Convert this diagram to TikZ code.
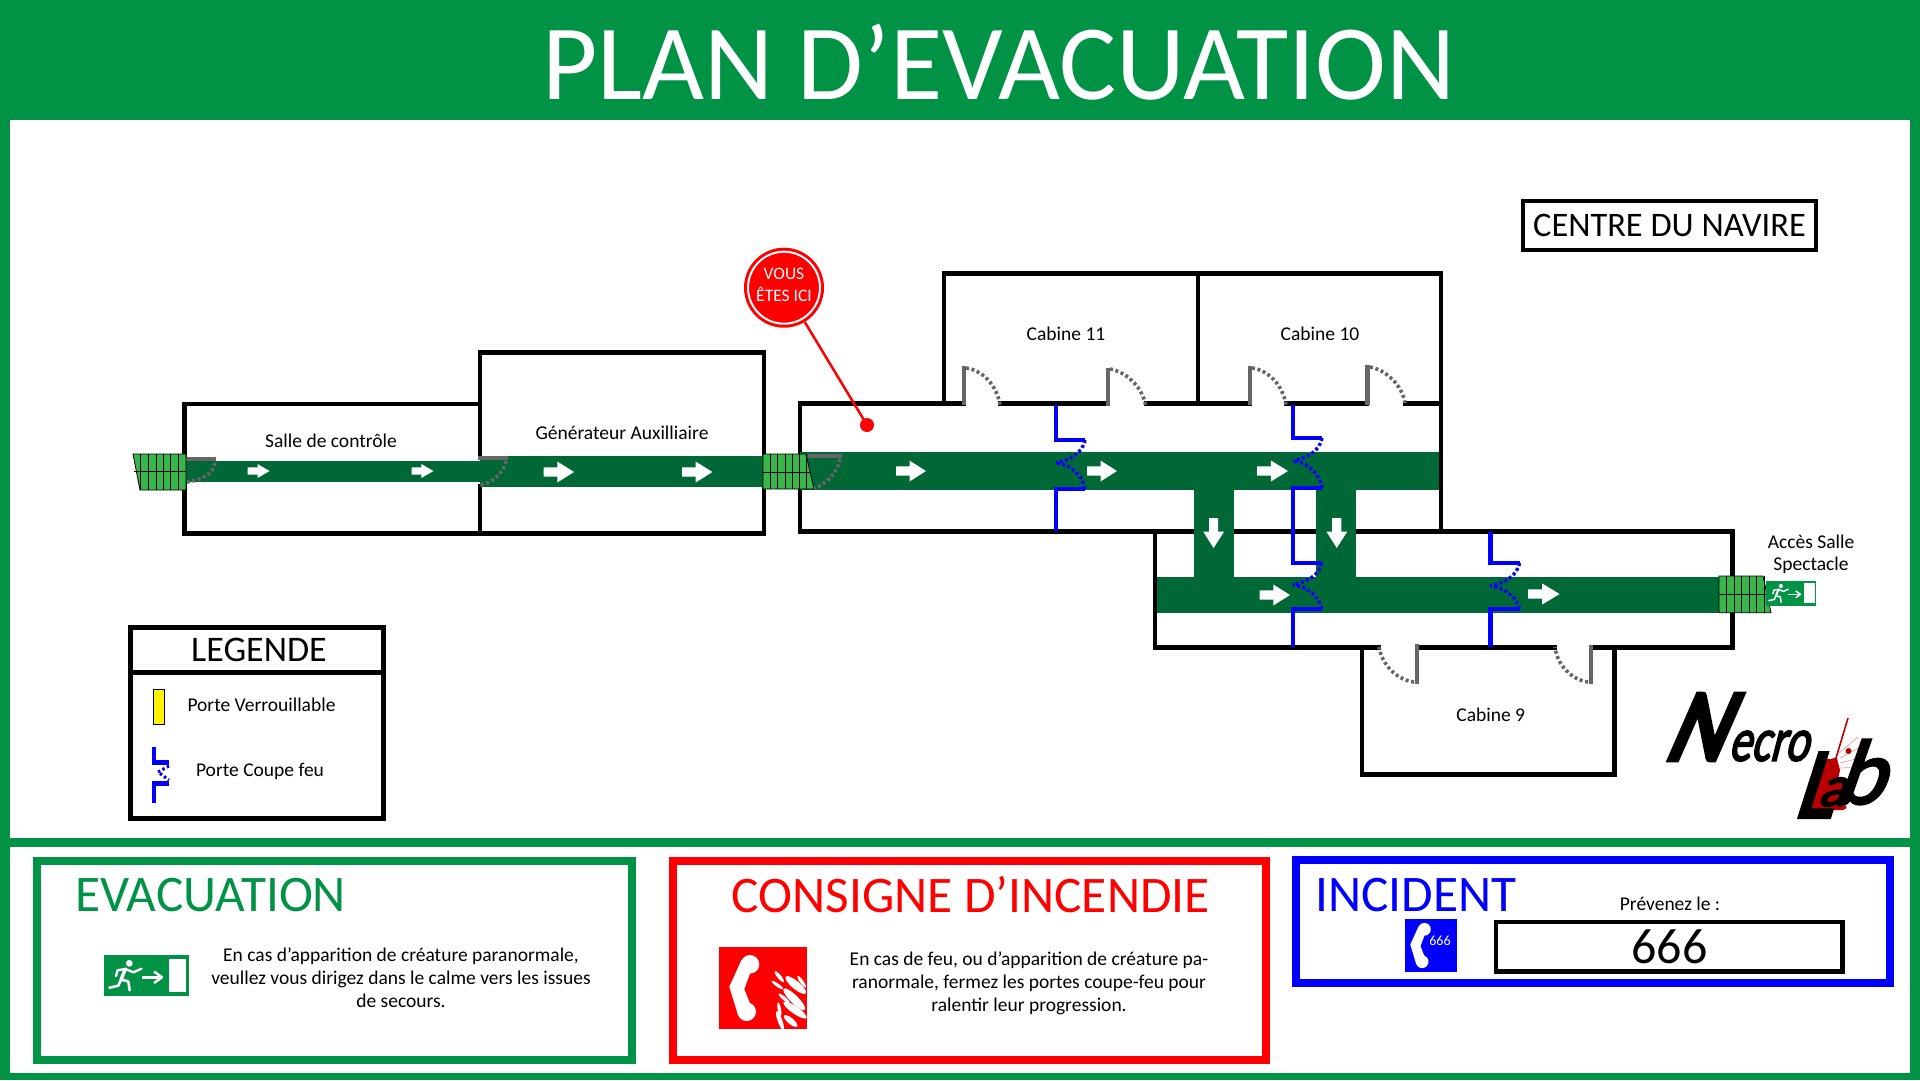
\documentclass[tikz,border=0pt]{standalone}
\usepackage{fontspec}
\setmainfont{Carlito}
\newfontfamily\brushfont[FakeBold=3,FakeSlant=0.35]{Carlito}
\newfontfamily\brushbig[FakeBold=6,FakeSlant=0.5]{Carlito}
\definecolor{gmain}{HTML}{009245}
\definecolor{gdark}{HTML}{006837}
\definecolor{glight}{HTML}{39B54A}
\definecolor{rmain}{HTML}{FF0000}
\definecolor{bmain}{HTML}{0000FF}
\definecolor{dgray}{HTML}{666666}
\definecolor{bloodred}{HTML}{B80000}
\definecolor{bloodpale}{HTML}{E8A0A0}
\tikzset{
  wall/.style={draw=black,line width=4.6pt,line cap=rect},
  corridor/.style={fill=gdark},
  doorbar/.style={draw=dgray,line width=4.4pt},
  doorarc/.style={draw=dgray,line width=3.6pt,dash pattern=on 3pt off 2.6pt},
  fireline/.style={draw=bmain,line width=4.4pt},
  firedash/.style={draw=bmain,line width=3.4pt,dash pattern=on 3pt off 2.4pt},
  stairs/.style={fill=glight,draw=black,line width=.8pt},
  lbl/.style={font=\fontsize{19.5}{24}\selectfont,inner sep=0pt,align=center},
  para/.style={font=\fontsize{19.5}{23}\selectfont,inner sep=0pt,align=center},
  head/.style={font=\fontsize{51.3}{56}\selectfont,inner sep=0pt},
  brush/.style={inner sep=0pt,transform shape},
}
% right-pointing block arrow: x start, x end, y centre, half height, shaft half height
\newcommand{\rarrow}[5]{\fill[white] (#1,#3-#5) -- ({#1+0.45*(#2-#1)},#3-#5) -- ({#1+0.45*(#2-#1)},#3-#4) -- (#2,#3) -- ({#1+0.45*(#2-#1)},#3+#4) -- ({#1+0.45*(#2-#1)},#3+#5) -- (#1,#3+#5) -- cycle;}
\newcommand{\darrow}[5]{\fill[white] (#3-#5,#1) -- (#3-#5,{#1+0.45*(#2-#1)}) -- (#3-#4,{#1+0.45*(#2-#1)}) -- (#3,#2) -- (#3+#4,{#1+0.45*(#2-#1)}) -- (#3+#5,{#1+0.45*(#2-#1)}) -- (#3+#5,#1) -- cycle;}
% fire door: x, y top, y upper leaf, x leaf end, y meet, y lower leaf, y bottom
\newcommand{\firedoor}[7]{
  \draw[fireline,line join=miter] (#1,#2) -- (#1,#3) -- (#4,#3);
  \draw[fireline,line join=miter] (#1,#7) -- (#1,#6) -- (#4,#6);
  \draw[firedash] (#4,#3) .. controls (#4-3,#5-8) and (#1+12,#5-3) .. (#1,#5);
  \draw[firedash] (#4,#6) .. controls (#4-3,#5+10) and (#1+12,#5+1) .. (#1,#5);
}
% exit sign: left, top, scale
\newcommand{\exitsign}[3]{
\begin{scope}[shift={(#1,#2)},scale=#3]
  \fill[gmain] (0,0) rectangle (84.6,41);
  \fill[white] (64.6,4) rectangle (82.4,37);
  \fill[white] (25.3,8.3) circle (3.4);
  \draw[white,line width=#3*3.4pt,line join=round,line cap=round] (21.4,14) -- (17,24.7);
  \draw[white,line width=#3*2.4pt,line join=round,line cap=round] (12,21) -- (13.5,15.3) -- (21.4,14) -- (29.4,17.3) -- (37.5,13.7);
  \draw[white,line width=#3*2.6pt,line join=round,line cap=round] (5.4,32.7) -- (14.3,30.7) -- (17,24.7) -- (24.3,26.3) -- (25.7,35.3);
  \draw[white,line width=#3*2.4pt,line join=round] (37.5,22.3) -- (58,22.3);
  \draw[white,line width=#3*2.4pt,line join=round] (50,16.5) -- (58,22.3) -- (50,28);
\end{scope}}
% telephone: x, y of the upper blob, scale
\newcommand{\phoneicon}[3]{
\begin{scope}[shift={(#1,#2)},scale=#3]
  \fill[white] (0,0) circle (9.3);
  \fill[white] (-3.3,47.4) circle (9.3);
  \fill[white] (-8.5,-4.3) -- (-20.7,22.4) -- (-12,50.7) -- (0,39.2) -- (-5.7,24.7) -- (0,9.2) -- cycle;
\end{scope}}
\begin{document}
\begin{tikzpicture}[x=1pt,y=-1pt]
\useasboundingbox (0,0) rectangle (1920,1080);
% frame
\fill[gmain] (0,0) rectangle (1920,1080);
\fill[white] (10,120) rectangle (1910,838);
\fill[white] (10,847) rectangle (1910,1073);
\node[font=\fontsize{107}{120}\selectfont,text=white,inner sep=0pt] (title) at (999,62) {PLAN D’EVACUATION};

% walls
\draw[wall] (184.7,458) -- (184.7,404) -- (480,404);
\draw[wall] (184.7,482) -- (184.7,533.7) -- (763.8,533.7) -- (763.8,488);
\draw[wall] (480,458) -- (480,352.7) -- (763.8,352.7) -- (763.8,456);
\draw[wall] (480,486) -- (480,533.7);
\draw[wall] (800,454) -- (800,403.3) -- (964,403.3);
\draw[wall] (1000,403.3) -- (1108,403.3);
\draw[wall] (1146,403.3) -- (1250,403.3);
\draw[wall] (1286,403.3) -- (1367,403.3);
\draw[wall] (1405,403.3) -- (1441,403.3);
\draw[wall] (800,490) -- (800,531.5) -- (1732.4,531.5) -- (1732.4,577);
\draw[wall] (944,403.3) -- (944,273.3) -- (1441,273.3) -- (1441,531.5);
\draw[wall] (1198,273.3) -- (1198,403.3);
\draw[wall] (1155,531.5) -- (1155,647.3) -- (1379,647.3);
\draw[wall] (1417,647.3) -- (1555,647.3);
\draw[wall] (1591,647.3) -- (1732.4,647.3) -- (1732.4,612);
\draw[wall] (1362,647.3) -- (1362,774.3) -- (1614.5,774.3) -- (1614.5,647.3);

% corridors
\fill[corridor] (186,461) rectangle (480,482);
\fill[corridor] (480,456) rectangle (764,486.7);
\fill[corridor] (800,452.3) rectangle (1439,490);
\fill[corridor] (1194,490) rectangle (1233.6,577);
\fill[corridor] (1316.4,490) rectangle (1356.4,577);
\fill[corridor] (1157,577) rectangle (1719,612.7);

% arrows
\rarrow{247.7}{269.6}{471}{7}{3.6}
\rarrow{411.5}{433.4}{471}{7}{3.6}
\rarrow{543.7}{574}{472}{10.5}{4.6}
\rarrow{682}{712.4}{472}{10.5}{4.6}
\rarrow{896}{926}{471}{10.5}{4.6}
\rarrow{1087}{1117}{471}{10.5}{4.6}
\rarrow{1257}{1288}{471}{10.5}{4.6}
\rarrow{1259.6}{1290}{595}{10.5}{4.6}
\rarrow{1528}{1559.6}{594}{10.5}{4.6}
\darrow{518}{548}{1213.6}{10.5}{4.6}
\darrow{518}{548}{1336.8}{10.5}{4.6}

% ordinary doors
\draw[doorbar] (186,459) -- (216,459);
\draw[doorarc] (215,463) .. controls (214,474) and (200,481) .. (186,482);
\draw[doorbar] (478,458) -- (507.5,458);
\draw[doorarc] (506,461) .. controls (504,473) and (492,483) .. (480,485);
\draw[doorbar] (964,366) -- (964,405);
\draw[doorarc] (966,368) .. controls (982,370) and (997,385) .. (1000,405);
\draw[doorbar] (1108,367.6) -- (1108,406);
\draw[doorarc] (1110,369) .. controls (1127,372) and (1143,388) .. (1145.7,406);
\draw[doorbar] (1250,366) -- (1250,405);
\draw[doorarc] (1252,368) .. controls (1268,370) and (1283,385) .. (1286,405);
\draw[doorbar] (1367.5,365) -- (1367.5,405);
\draw[doorarc] (1370,367) .. controls (1386,370) and (1402,385) .. (1405,403);
\draw[doorbar] (1416.8,644) -- (1416.8,684);
\draw[doorarc] (1414,682) .. controls (1397,680) and (1382,665) .. (1379,647);
\draw[doorbar] (1591,645) -- (1591,684);
\draw[doorarc] (1588,682) .. controls (1572,680) and (1557,665) .. (1555,647);

% fire doors
\firedoor{1056}{405}{440}{1085}{463}{489}{531}
\firedoor{1293}{405}{438}{1322}{461}{488}{531}
\firedoor{1293}{531}{563}{1321.7}{585}{608.7}{647}
\firedoor{1490.4}{531.7}{563}{1519.5}{586}{609}{647}

% evacuation stairs
\draw[stairs] (133,454) -- (186,454) -- (186,490) -- (140,490) -- cycle;
\draw[black,line width=.8pt] (134,471.5) -- (186,471.5);
\foreach \vx in {140,148,156,163,170,178} \draw[black,line width=.8pt] (\vx,454) -- (\vx,490);
\draw[stairs] (763,454) -- (806,454) -- (814,489) -- (763,489) -- cycle;
\draw[black,line width=.8pt] (763,472) -- (810,472);
\foreach \vx in {770,777,785,792,799,806} \draw[black,line width=.8pt] (\vx,454) -- (\vx,489);
\draw[doorbar] (808,456) -- (842,456);
\draw[doorarc] (840,459) .. controls (838,472) and (826,485) .. (814,488);
\draw[stairs] (1719,576) -- (1763,576) -- (1771,612.7) -- (1719,612.7) -- cycle;
\draw[black,line width=.8pt] (1719,594.3) -- (1767,594.3);
\foreach \vx in {1726.7,1734,1741.7,1749,1756.7,1764} \draw[black,line width=.8pt] (\vx,576) -- (\vx,612.7);
\exitsign{1765.7}{581}{0.6}

% room labels
\node[lbl] (salle) at (331,440.5) {Salle de contrôle};
\node[lbl] (gen) at (622,432.5) {Générateur Auxilliaire};
\node[lbl] (c11) at (1066,333.5) {Cabine 11};
\node[lbl] (c10) at (1320,333.5) {Cabine 10};
\node[lbl] (c9) at (1490.7,714.5) {Cabine 9};
\node[lbl] (acces) at (1811,541.5) {Accès Salle};
\node[lbl] (spect) at (1811,565) {Spectacle};

% centre du navire
\node[draw=black,line width=4.6pt,minimum width=293pt,minimum height=49pt,inner sep=0pt,font=\fontsize{34.4}{40}\selectfont] (centre) at (1669.5,225.5) {CENTRE DU NAVIRE};

% you are here
\fill[rmain] (867,425) circle (7) coordinate (here);
\node[circle,fill=rmain,minimum size=80pt,inner sep=0pt] (vous) at (784,287.7) {};
\draw[rmain,line width=2.5pt] (vous) -- (here);
\draw[white,line width=2pt] (784,287.7) circle (36);
\node[text=white,inner sep=0pt,font=\fontsize{17.5}{20}\selectfont] (vt1) at (784,274) {VOUS};
\node[text=white,inner sep=0pt,font=\fontsize{17.5}{20}\selectfont] (vt2) at (784,294) {ÊTES ICI};

% legend
\draw[draw=black,line width=5pt] (130.5,627.5) rectangle (383,818.5);
\draw[draw=black,line width=5pt] (130,672.7) -- (385,672.7);
\node[inner sep=0pt,font=\fontsize{36}{40}\selectfont] (legtitle) at (259,649.5) {LEGENDE};
\draw[fill=yellow,draw=black,line width=.8pt] (153,689) rectangle (164.7,724.7);
\node[lbl] (lv) at (261.5,705) {Porte Verrouillable};
\draw[bmain,line width=4.6pt,line join=miter] (154,746.7) -- (154,762.7) -- (169,762.7);
\draw[bmain,line width=4.6pt,line join=miter] (154,802.7) -- (154,783.3) -- (169,783.3);
\draw[bmain,line width=3pt,dash pattern=on 2.5pt off 2.5pt] (169,766) -- (158,772) -- (169,780);
\node[lbl] (lc) at (260,771) {Porte Coupe feu};

% bottom panels
\draw[gmain,line width=8pt] (37,861) rectangle (631.5,1060);
\draw[rmain,line width=8pt] (672.6,861) rectangle (1266,1060);
\draw[bmain,line width=8pt] (1296,860) rectangle (1890,983);
\node[head,text=gmain,anchor=west] (evac) at (75,895) {EVACUATION};
\node[head,text=rmain] (cons) at (970.6,895) {CONSIGNE D’INCENDIE};
\node[head,text=bmain,anchor=west] (inc) at (1315,895) {INCIDENT};
\exitsign{104}{955}{1}
\node[para] (evactxt) at (401,977.3) {En cas d’apparition de créature paranormale,\\veullez vous dirigez dans le calme vers les issues\\de secours.};
\node[para] (constxt) at (1029,983) {En cas de feu, ou d'apparition de créature pa-\\ranormale, fermez les portes coupe-feu pour\\ralentir leur progression.};

% fire telephone icon
\fill[rmain] (719,947) rectangle (807,1029);
\phoneicon{750}{964.3}{1}
\begin{scope}
\clip (719,947) rectangle (807,1029);
\foreach \cx/\cy/\ra/\rb/\rt in {779.3/976.7/7/1.9/-50,777.3/985/7/1.6/-35,795.7/985/13/4/-40,801.7/981.7/7/1.8/-55,794.3/999.3/15/4/-45,784/998.3/7/1.7/-40,779.3/1009.3/7/1.7/-80,795/1010/14/3.7/-35,790.7/1021/8.5/3/-40,780/1020.7/10/2.3/-70}
  \fill[white,rotate around={\rt:(\cx,\cy)}] (\cx,\cy) ellipse [x radius=\ra,y radius=\rb];
\end{scope}

% incident
\node[lbl] (prev) at (1670,904) {Prévenez le :};
\node[draw=black,line width=4.4pt,minimum width=346.6pt,minimum height=49.7pt,inner sep=0pt,font=\fontsize{50}{54}\selectfont] (num) at (1669.3,946.8) {666};
\fill[bmain] (1405,919) rectangle (1457,972);
\phoneicon{1424.4}{929.3}{0.684}
\node[inner sep=0pt,text=white,font=\fontsize{14}{16}\selectfont] (n666) at (1440,940.7) {666};

% logo
\fill[bloodred] (1822.7,757.3) -- (1830,759.3) -- (1836.7,757.3) -- (1840,770) -- (1838,780) -- (1846.7,786.7) -- (1841.7,798) -- (1846.7,808) -- (1843,810) -- (1803,810) -- (1818,766.7) -- cycle;
\draw[bloodred,line width=1.6pt] (1836,758) -- (1848,718);
\draw[bloodpale,line width=.7pt] (1838,754) -- (1858,737);
\draw[bloodpale,line width=.7pt] (1840,758) -- (1870,742);
\draw[bloodpale,line width=.7pt] (1840,763) -- (1860,758);
\draw[bloodpale,line width=.7pt] (1840,768) -- (1870,767);
\fill[bloodred] (1848.5,751) circle (3);
\begin{scope}[every node/.append style={text=black}]
\node[brush,xscale=1.05,yscale=1.2,font=\brushbig\fontsize{84}{90}\selectfont] (logoN) at (1692,727) {N};
\node[brush,xscale=.8,yscale=1.1,font=\brushfont\fontsize{56}{60}\selectfont] (logoE) at (1768,746) {ecro};
\node[brush,yscale=1.1,font=\brushfont\fontsize{92}{96}\selectfont] (logoL) at (1812,785) {L};
\node[brush,font=\brushfont\fontsize{58}{60}\selectfont] (logoA) at (1831,792) {a};
\node[brush,font=\brushfont\fontsize{92}{96}\selectfont] (logoB) at (1858,772) {b};
\end{scope}
\end{tikzpicture}
\end{document}
